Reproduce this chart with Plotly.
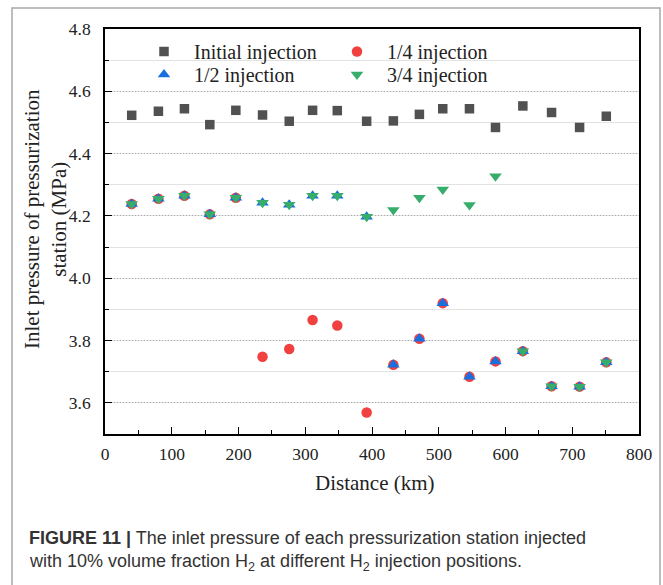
import plotly.graph_objects as go

# ---- data ----
distance_km = [40, 80, 119, 157, 196, 236, 276, 311, 348, 392, 432, 471, 506, 546, 585, 626, 669, 711, 751]
initial_injection = [4.523, 4.536, 4.544, 4.493, 4.539, 4.524, 4.504, 4.539, 4.538, 4.504,
                     4.505, 4.526, 4.544, 4.544, 4.484, 4.553, 4.532, 4.484, 4.520]
quarter_injection = [4.238, 4.255, 4.265, 4.205, 4.258, 3.748, 3.773, 3.866, 3.848, 3.569,
                     3.722, 3.806, 3.920, 3.684, 3.733, 3.766, 3.653, 3.652, 3.730]
half_injection = [4.238, 4.255, 4.265, 4.205, 4.258, 4.242, 4.236, 4.265, 4.265, 4.197,
                  3.722, 3.806, 3.920, 3.684, 3.733, 3.766, 3.653, 3.652, 3.730]
three_quarter_injection = [4.238, 4.255, 4.265, 4.205, 4.258, 4.242, 4.236, 4.265, 4.265, 4.197,
                           4.219, 4.258, 4.285, 4.235, 4.327, 3.766, 3.653, 3.652, 3.730]

series_names = ["Initial injection", "1/4 injection", "1/2 injection", "3/4 injection"]
x_tick_vals = [0, 100, 200, 300, 400, 500, 600, 700, 800]
y_tick_vals = [3.6, 3.8, 4.0, 4.2, 4.4, 4.6, 4.8]

SERIF = "Liberation Serif, Times New Roman, serif"
SANS = "Liberation Sans, Arial, sans-serif"

W, H = 663, 585
L, R, T, B = 105, 24, 29, 151
PW, PH = W - L - R, H - T - B


def px_x(px):
    return (px - L) / PW


def px_y(py):
    return (H - B - py) / PH


fig = go.Figure()
fig.add_trace(go.Scatter(x=distance_km, y=initial_injection, mode="markers", name=series_names[0],
                         legend="legend",
                         marker=dict(symbol="square", size=9.5, color="#515151")))
fig.add_trace(go.Scatter(x=distance_km, y=quarter_injection, mode="markers", name=series_names[1],
                         legend="legend",
                         marker=dict(symbol="circle", size=10.5, color="#F14040")))
fig.add_trace(go.Scatter(x=distance_km, y=half_injection, mode="markers", name=series_names[2],
                         legend="legend2",
                         marker=dict(symbol="triangle-up", size=11, color="#1A6FDF")))
fig.add_trace(go.Scatter(x=distance_km, y=three_quarter_injection, mode="markers", name=series_names[3],
                         legend="legend2",
                         marker=dict(symbol="triangle-down", size=11, color="#37AD6B")))

tick_font = dict(family=SERIF, size=17.5, color="#222")

fig.update_xaxes(range=[0, 800], tickvals=x_tick_vals, showgrid=False,
                 showline=True, linecolor="black", linewidth=1.6, mirror=True,
                 ticks="inside", ticklen=7, tickwidth=1.4, tickcolor="black",
                 tickfont=tick_font, zeroline=False,
                 minor=dict(dtick=50, tick0=0, ticks="inside", ticklen=4, tickwidth=1.2,
                            tickcolor="black", showgrid=False),
                 ticklabelstandoff=3)
fig.update_yaxes(range=[3.5, 4.8], tickvals=y_tick_vals, tickformat=".1f",
                 showline=True, linecolor="black", linewidth=1.6, mirror=True,
                 ticks="inside", ticklen=7, tickwidth=1.4, tickcolor="black",
                 tickfont=tick_font, zeroline=False,
                 showgrid=True, gridcolor="#a8a8a8", griddash="1px,2px", gridwidth=1,
                 minor=dict(dtick=0.1, tick0=3.5, ticks="inside", ticklen=4, tickwidth=1.2,
                            tickcolor="black", showgrid=True, gridcolor="#e2e2e2",
                            griddash="solid", gridwidth=1),
                 ticklabelstandoff=9)

annotations = [
    dict(text="Inlet pressure of pressurization<br>station (MPa)", textangle=-90,
         xref="paper", yref="paper", x=px_x(45), y=px_y(219), xanchor="center", yanchor="middle",
         showarrow=False, font=dict(family=SERIF, size=21, color="#222")),
    dict(text="Distance (km)", xref="paper", yref="paper", x=px_x(375), y=px_y(483),
         xanchor="center", yanchor="middle", showarrow=False,
         font=dict(family=SERIF, size=21, color="#222")),
    dict(text="<b>FIGURE 11 |</b> The inlet pressure of each pressurization station injected",
         xref="paper", yref="paper", x=px_x(27), y=px_y(538), xanchor="left", yanchor="middle",
         showarrow=False, font=dict(family=SANS, size=18, color="#333")),
    dict(text="with 10% volume fraction H<sub>2</sub> at different H<sub>2</sub> injection positions.",
         xref="paper", yref="paper", x=px_x(27), y=px_y(562), xanchor="left", yanchor="middle",
         showarrow=False, font=dict(family=SANS, size=18, color="#333")),
]

shapes = [
    dict(type="rect", xref="paper", yref="paper", x0=px_x(12), x1=px_x(660),
         y0=px_y(600), y1=px_y(8), line=dict(color="#a8a8a8", width=1.5), layer="below"),
]

legend_common = dict(orientation="h", xanchor="left", yanchor="top",
                     entrywidth=128, itemwidth=50, bgcolor="rgba(0,0,0,0)",
                     font=dict(family=SERIF, size=20, color="#222"))

fig.update_layout(
    width=W, height=H, margin=dict(l=L, r=R, t=T, b=B),
    paper_bgcolor="white", plot_bgcolor="white",
    font=dict(family=SERIF),
    showlegend=True,
    legend=dict(x=px_x(134), y=px_y(32), **legend_common),
    legend2=dict(x=px_x(134), y=px_y(55), **legend_common),
    annotations=annotations, shapes=shapes,
)

fig.write_html("out.html")
